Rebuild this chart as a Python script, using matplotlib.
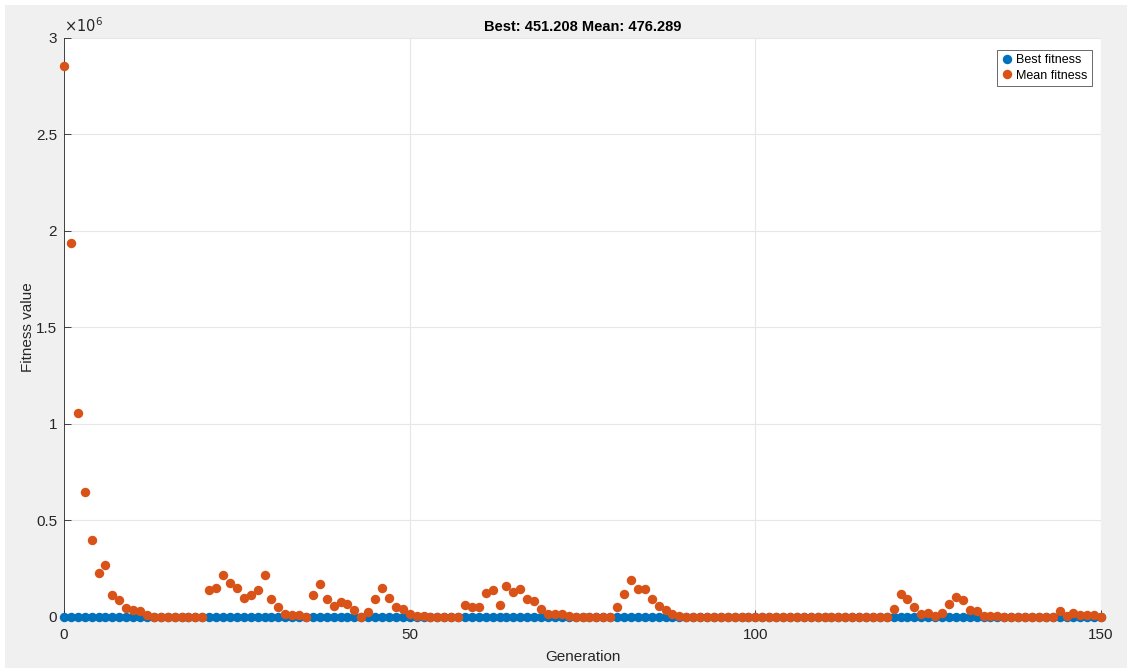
import matplotlib
matplotlib.use("Agg")
import matplotlib.pyplot as plt
import numpy as np
from matplotlib.ticker import FuncFormatter
from matplotlib.patches import Rectangle

# values, in units of 1e6
generation = np.arange(0, 151)
mean_fitness_m = [
    2.855, 1.938, 1.057, 0.648, 0.397, 0.230, 0.271, 0.112, 0.087, 0.047,
    0.038, 0.030, 0.012, 0.002, 0.0005, 0.0005, 0.0005, 0.0005, 0.0005, 0.0005,
    0.0005, 0.142, 0.152, 0.218, 0.178, 0.150, 0.100, 0.116, 0.142, 0.220,
    0.092, 0.052, 0.018, 0.010, 0.008, 0.0005, 0.116, 0.169, 0.092, 0.059,
    0.078, 0.069, 0.035, 0.0005, 0.028, 0.093, 0.150, 0.100, 0.052, 0.042,
    0.016, 0.007, 0.007, 0.0005, 0.0005, 0.0005, 0.0005, 0.0005, 0.060, 0.052,
    0.052, 0.126, 0.138, 0.060, 0.161, 0.128, 0.145, 0.093, 0.084, 0.043,
    0.016, 0.016, 0.016, 0.007, 0.002, 0.0005, 0.0005, 0.0005, 0.0005, 0.0005,
    0.052, 0.117, 0.194, 0.144, 0.144, 0.093, 0.059, 0.035, 0.016, 0.007,
    0.0005, 0.0005, 0.0005, 0.0005, 0.0005, 0.0005, 0.0005, 0.0005, 0.0005, 0.0005,
    0.0005, 0.0005, 0.0005, 0.0005, 0.0005, 0.0005, 0.0005, 0.0005, 0.0005, 0.0005,
    0.0005, 0.0005, 0.0005, 0.0005, 0.0005, 0.0005, 0.0005, 0.0005, 0.0005, 0.0005,
    0.043, 0.119, 0.093, 0.052, 0.016, 0.020, 0.007, 0.020, 0.069, 0.104,
    0.087, 0.035, 0.030, 0.007, 0.007, 0.007, 0.0005, 0.0005, 0.0005, 0.0005,
    0.0005, 0.0005, 0.0005, 0.0005, 0.030, 0.007, 0.020, 0.010, 0.010, 0.010,
    0.0005,
]
best_fitness_m = [
    0.00045, 0.00045, 0.00045, 0.00045, 0.00045, 0.00045, 0.00045, 0.00045, 0.00045, 0.00045,
    0.00045, 0.00045, 0.00045, 0.00045, 0.00045, 0.00045, 0.00045, 0.00045, 0.00045, 0.00045,
    0.00045, 0.00045, 0.00045, 0.00045, 0.00045, 0.00045, 0.00045, 0.00045, 0.00045, 0.00045,
    0.00045, 0.00045, 0.00045, 0.00045, 0.00045, 0.00045, 0.00045, 0.00045, 0.00045, 0.00045,
    0.00045, 0.00045, 0.00045, 0.00045, 0.00045, 0.00045, 0.00045, 0.00045, 0.00045, 0.00045,
    0.00045, 0.00045, 0.00045, 0.00045, 0.00045, 0.00045, 0.00045, 0.00045, 0.00045, 0.00045,
    0.00045, 0.00045, 0.00045, 0.00045, 0.00045, 0.00045, 0.00045, 0.00045, 0.00045, 0.00045,
    0.00045, 0.00045, 0.00045, 0.00045, 0.00045, 0.00045, 0.00045, 0.00045, 0.00045, 0.00045,
    0.00045, 0.00045, 0.00045, 0.00045, 0.00045, 0.00045, 0.00045, 0.00045, 0.00045, 0.00045,
    0.00045, 0.00045, 0.00045, 0.00045, 0.00045, 0.00045, 0.00045, 0.00045, 0.00045, 0.00045,
    0.00045, 0.00045, 0.00045, 0.00045, 0.00045, 0.00045, 0.00045, 0.00045, 0.00045, 0.00045,
    0.00045, 0.00045, 0.00045, 0.00045, 0.00045, 0.00045, 0.00045, 0.00045, 0.00045, 0.00045,
    0.00045, 0.00045, 0.00045, 0.00045, 0.00045, 0.00045, 0.00045, 0.00045, 0.00045, 0.00045,
    0.00045, 0.00045, 0.00045, 0.00045, 0.00045, 0.00045, 0.00045, 0.00045, 0.00045, 0.00045,
    0.00045, 0.00045, 0.00045, 0.00045, 0.00045, 0.00045, 0.00045, 0.00045, 0.00045, 0.00045,
    0.00045,
]
mean_fitness = np.array(mean_fitness_m) * 1e6
best_fitness = np.array(best_fitness_m) * 1e6

y_ticks = [0, 0.5e6, 1e6, 1.5e6, 2e6, 2.5e6, 3e6]
x_ticks = [0, 50, 100, 150]

plt.rcParams['font.family'] = ['Liberation Sans', 'DejaVu Sans']
txt_col = '#262626'

fig = plt.figure(figsize=(11.27, 6.71), dpi=100, facecolor='white')
# grey window area with thin white border like the screenshot
fig.patches.append(Rectangle((5 / 1127, 3 / 671), 1 - 5 / 1127, 1 - 8 / 671,
                             transform=fig.transFigure, facecolor='#f0f0f0',
                             edgecolor='none', zorder=-10))
ax = fig.add_axes([0.0568, 0.0805, 0.9202, 0.8629])
ax.set_facecolor('white')

ax.plot(generation, best_fitness, 'o', color='#0072bd', markersize=6.8,
        markeredgewidth=0, label='Best fitness', clip_on=False, zorder=3)
ax.plot(generation, mean_fitness, 'o', color='#d95319', markersize=6.8,
        markeredgewidth=0, label='Mean fitness', clip_on=False, zorder=4)

ax.set_xlim(0, 150)
ax.set_ylim(0, 3e6)
ax.set_xticks(x_ticks)
ax.set_yticks(y_ticks)
ax.yaxis.set_major_formatter(FuncFormatter(lambda v, p: '%g' % (v / 1e6)))
ax.grid(True, color='#e6e6e6', linewidth=0.8)
ax.set_axisbelow(True)

for s in ['top', 'right']:
    ax.spines[s].set_visible(False)
for s in ['left', 'bottom']:
    ax.spines[s].set_color('#262626')
    ax.spines[s].set_linewidth(0.6)
ax.tick_params(direction='in', length=5, width=0.6, colors=txt_col,
               labelsize=11)
ax.tick_params(axis='x', pad=8)
ax.tick_params(axis='y', pad=5)

ax.text(0.0, 1.005, r'$\times10^{6}$', transform=ax.transAxes, fontsize=10.5,
        color=txt_col, ha='left', va='bottom')

ax.set_title('Best: 451.208 Mean: 476.289', fontsize=10.5, fontweight='bold',
             color='black', pad=5)
ax.set_xlabel('Generation', fontsize=11, color=txt_col, labelpad=6)
ax.set_ylabel('Fitness value', fontsize=11, color=txt_col, labelpad=1)

leg = ax.legend(loc='upper right', fontsize=9, frameon=True, fancybox=False,
                handletextpad=0.2, handlelength=1.0, borderpad=0.35,
                labelspacing=0.25, bbox_to_anchor=(0.997, 0.99))
leg.get_frame().set_edgecolor('#262626')
leg.get_frame().set_linewidth(0.6)

fig.savefig('out.png', dpi=100, facecolor=fig.get_facecolor())
